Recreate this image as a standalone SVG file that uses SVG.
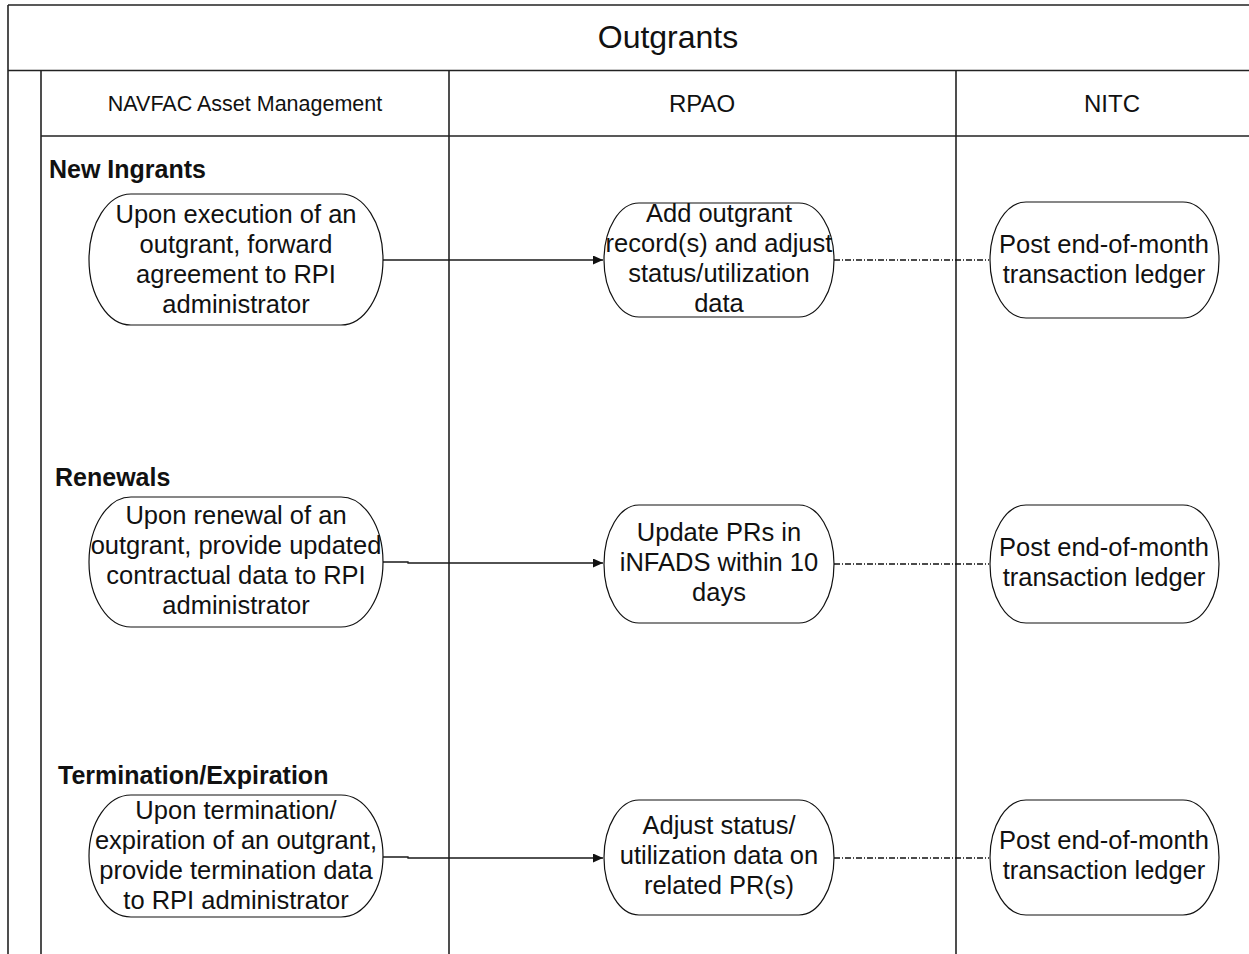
<svg xmlns="http://www.w3.org/2000/svg" width="1249" height="954" viewBox="0 0 1249 954">
  <style>
    .lane { stroke: #222222; stroke-width: 1.6; fill: none; }
    .node { fill: #ffffff; stroke: #111111; stroke-width: 1.2; }
    .txt { font-family: "Liberation Sans", Arial, sans-serif; font-size: 25.5px; fill: #111111; text-anchor: middle; }
    .hdr { font-family: "Liberation Sans", Arial, sans-serif; fill: #111111; text-anchor: middle; }
    .lbl { font-family: "Liberation Sans", Arial, sans-serif; font-size: 25px; font-weight: bold; fill: #111111; }
    .flow { stroke: #1a1a1a; stroke-width: 1.3; fill: none; marker-end: url(#arrow); }
    .link { stroke: #111111; stroke-width: 1.4; fill: none; stroke-dasharray: 6 2 1 2; }
  </style>
  <defs>
    <marker id="arrow" markerWidth="11" markerHeight="10" refX="10" refY="4.5" orient="auto" markerUnits="userSpaceOnUse">
      <path d="M0,0 L10,4.5 L0,9 Z" fill="#111111"/>
    </marker>
  </defs>

  <rect x="0" y="0" width="1249" height="954" fill="#ffffff"/>

  <!-- swimlane frame -->
  <g id="frame">
    <line class="lane" x1="8" y1="5" x2="1249" y2="5"/>
    <line class="lane" x1="8" y1="5" x2="8" y2="954"/>
    <line class="lane" x1="8" y1="70.5" x2="1249" y2="70.5" stroke-width="2.8"/>
    <line class="lane" x1="41" y1="70" x2="41" y2="954"/>
    <line class="lane" x1="41" y1="136" x2="1249" y2="136"/>
    <line class="lane" x1="449" y1="70" x2="449" y2="954"/>
    <line class="lane" x1="956" y1="70" x2="956" y2="954"/>
    <text class="hdr" x="668" y="48" font-size="32">Outgrants</text>
    <text class="hdr" x="245" y="111" font-size="21.5">NAVFAC Asset Management</text>
    <text class="hdr" x="702" y="112" font-size="24">RPAO</text>
    <text class="hdr" x="1112" y="112" font-size="24">NITC</text>
  </g>

  <!-- section labels -->
  <g id="labels">
    <text class="lbl" x="49" y="178">New Ingrants</text>
    <text class="lbl" x="55" y="486">Renewals</text>
    <text class="lbl" x="58" y="784">Termination/Expiration</text>
  </g>

  <!-- connectors -->
  <g id="connectors">
    <path class="flow" d="M383,260 L603,260"/>
    <path class="flow" d="M383,562 L408,562 L408,563 L603,563"/>
    <path class="flow" d="M383,857 L408,857 L408,858 L603,858"/>
    <path class="link" d="M834,260 L989,260"/>
    <path class="link" d="M834,564 L989,564"/>
    <path class="link" d="M834,858 L989,858"/>
  </g>

  <!-- New Ingrants -->
  <g id="new-am">
    <rect class="node" x="89" y="194" width="294" height="131" rx="42" ry="65.5"/>
    <text class="txt" x="236" y="223">Upon execution of an</text>
    <text class="txt" x="236" y="253">outgrant, forward</text>
    <text class="txt" x="236" y="283">agreement to RPI</text>
    <text class="txt" x="236" y="313">administrator</text>
  </g>
  <g id="new-rpao">
    <rect class="node" x="604" y="203" width="230" height="114" rx="35" ry="57"/>
    <text class="txt" x="719" y="222">Add outgrant</text>
    <text class="txt" x="719" y="252">record(s) and adjust</text>
    <text class="txt" x="719" y="282">status/utilization</text>
    <text class="txt" x="719" y="312">data</text>
  </g>
  <g id="new-nitc">
    <rect class="node" x="990" y="202" width="229" height="116" rx="36" ry="58"/>
    <text class="txt" x="1104" y="253">Post end-of-month</text>
    <text class="txt" x="1104" y="283">transaction ledger</text>
  </g>

  <!-- Renewals -->
  <g id="ren-am">
    <rect class="node" x="89" y="497" width="294" height="130" rx="42" ry="65"/>
    <text class="txt" x="236" y="524">Upon renewal of an</text>
    <text class="txt" x="236" y="554">outgrant, provide updated</text>
    <text class="txt" x="236" y="584">contractual data to RPI</text>
    <text class="txt" x="236" y="614">administrator</text>
  </g>
  <g id="ren-rpao">
    <rect class="node" x="604" y="505" width="230" height="118" rx="35" ry="59"/>
    <text class="txt" x="719" y="541">Update PRs in</text>
    <text class="txt" x="719" y="571">iNFADS within 10</text>
    <text class="txt" x="719" y="601">days</text>
  </g>
  <g id="ren-nitc">
    <rect class="node" x="990" y="505" width="229" height="118" rx="36" ry="59"/>
    <text class="txt" x="1104" y="556">Post end-of-month</text>
    <text class="txt" x="1104" y="586">transaction ledger</text>
  </g>

  <!-- Termination/Expiration -->
  <g id="term-am">
    <rect class="node" x="89" y="795" width="294" height="122" rx="42" ry="61"/>
    <text class="txt" x="236" y="819">Upon termination/</text>
    <text class="txt" x="236" y="849">expiration of an outgrant,</text>
    <text class="txt" x="236" y="879">provide termination data</text>
    <text class="txt" x="236" y="909">to RPI administrator</text>
  </g>
  <g id="term-rpao">
    <rect class="node" x="604" y="800" width="230" height="115" rx="35" ry="57.5"/>
    <text class="txt" x="719" y="834">Adjust status/</text>
    <text class="txt" x="719" y="864">utilization data on</text>
    <text class="txt" x="719" y="894">related PR(s)</text>
  </g>
  <g id="term-nitc">
    <rect class="node" x="990" y="800" width="229" height="115" rx="36" ry="57.5"/>
    <text class="txt" x="1104" y="849">Post end-of-month</text>
    <text class="txt" x="1104" y="879">transaction ledger</text>
  </g>
</svg>
